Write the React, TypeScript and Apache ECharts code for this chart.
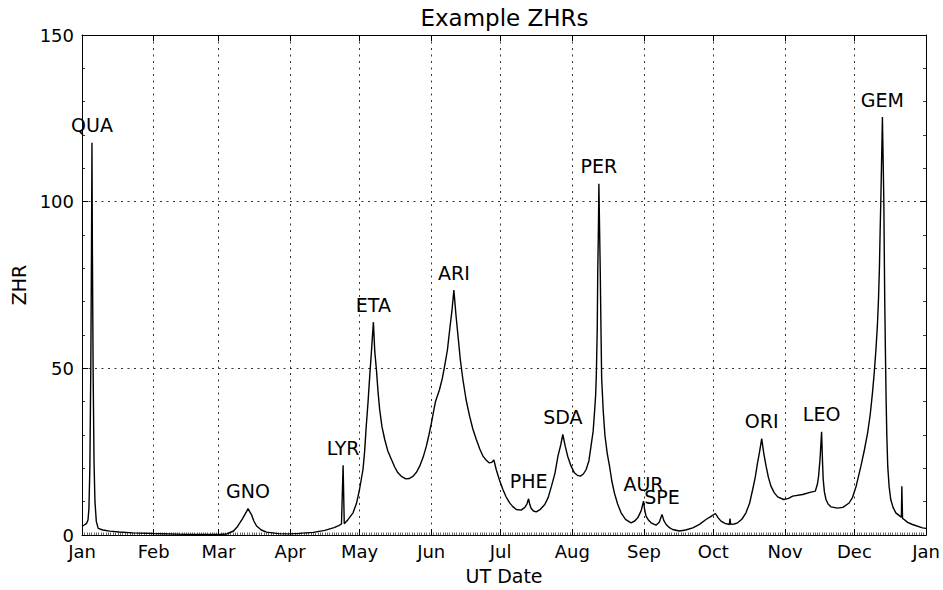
import React, { useEffect, useRef } from "react";
import * as echarts from "echarts";

const monthLabels = ["Jan", "Feb", "Mar", "Apr", "May", "Jun", "Jul", "Aug", "Sep", "Oct", "Nov", "Dec"];

// [day of year (UT), ZHR]
const zhrCurve: [number, number][] = [
  [0, 2.6], [1, 3.0], [2, 3.5], [2.6, 4.5], [3.0, 8], [3.4, 20], [3.8, 50], [4.1, 85], [4.3, 117.7], [4.5, 85],
  [4.8, 50], [5.2, 22], [5.6, 10], [6.2, 4], [7, 2.0], [9, 1.5], [12, 1.15], [16, 0.9], [22, 0.65], [31, 0.45],
  [45, 0.2], [59, 0.15], [62.5, 0.3], [65.5, 1.2], [67, 2.3], [68.3, 3.7], [69.5, 5], [70.4, 6.1], [71.2, 7.1],
  [71.8, 7.95], [72.5, 7.0], [73.3, 6.1], [74.3, 4.2], [75.5, 2.7], [77.5, 1.5], [79.8, 0.85], [85, 0.4], [90, 0.35],
  [94, 0.5], [100, 0.8], [105, 1.4], [109, 2.2], [111, 2.8], [112.2, 3.3], [112.9, 20.9], [113.4, 3.4], [115, 4.6],
  [117.2, 6.65], [118.7, 9.5], [120, 13.65], [121.5, 19.65], [122.2, 25], [122.9, 32.6], [123.7, 40], [124.4, 47.6],
  [125.2, 55.5], [126.0, 63.85], [126.6, 55], [127.3, 49.7], [128.0, 43], [128.7, 37.7], [129.7, 32.5], [130.9, 28.65],
  [132.2, 25.3], [133.8, 22.65], [135.2, 20.4], [136.6, 18.65], [138.3, 17.5], [140.0, 16.85], [141.6, 16.95],
  [143.2, 17.65], [144.7, 18.9], [146.0, 20.65], [147.5, 23.3], [148.9, 26.65], [150.0, 30], [151.1, 33.65],
  [152.0, 37], [152.9, 40.15], [154.6, 43.65], [155.8, 47], [156.8, 50.65], [158.0, 55.5], [159.0, 61.65],
  [160.0, 67.5], [160.8, 73.45], [161.7, 66], [162.6, 59.65], [163.6, 52.5], [164.7, 46.65], [166.1, 40.5],
  [167.6, 35.65], [169.0, 31.8], [170.5, 28.65], [172.0, 25.8], [173.4, 23.65], [174.8, 22.4], [176.0, 21.65],
  [177.2, 21.8], [178.1, 22.5], [179.1, 19.65], [180.5, 16.5], [182.0, 13.65], [183.4, 11.4], [184.9, 9.65],
  [186.3, 8.5], [187.8, 7.65], [189.9, 7.45], [191.5, 8.3], [192.4, 9.3], [193.1, 10.85], [193.6, 9.2], [194.2, 8.0],
  [195.2, 7.2], [196.4, 6.95], [198.2, 7.7], [200.1, 9.15], [201.6, 11.3], [203.0, 14.65], [204.5, 18.5],
  [205.8, 23.65], [207.0, 27], [207.9, 30.15], [209.0, 26.5], [210.0, 23.65], [211.4, 20.8], [212.9, 18.65],
  [214.2, 17.9], [215.5, 17.65], [216.8, 18.3], [218.0, 19.65], [219.2, 22.3], [220.1, 26.65], [221.0, 31],
  [221.6, 36.65], [222.1, 42], [222.4, 48], [222.8, 62], [223.0, 78.65], [223.3, 92], [223.5, 105.4], [223.8, 92],
  [224.1, 78.65], [224.4, 62], [224.7, 47], [225.4, 37], [226.1, 30], [227.1, 24.5], [228.1, 20.65], [229.1, 16.2],
  [230.2, 12.65], [231.6, 9.3], [233.1, 6.65], [235.0, 4.7], [237.4, 3.65], [239.0, 4.2], [240.3, 5.15], [241.8, 7.3],
  [242.8, 10.15], [243.3, 7.5], [243.9, 5.65], [245.0, 4.4], [246.1, 3.65], [248.2, 2.95], [249.6, 3.8], [250.8, 6.15],
  [251.6, 4.3], [252.6, 3.15], [254.0, 2.2], [255.4, 1.65], [258.3, 1.2], [261, 1.5], [264.1, 2.15], [267, 3.2],
  [269.8, 4.65], [272, 5.6], [273.9, 6.45], [275, 5.2], [276.3, 4.15], [278, 3.5], [279.9, 3.15], [280.2, 4.9],
  [280.5, 3.2], [282, 3.3], [283.5, 3.65], [285.4, 4.8], [287.1, 6.65], [288.7, 9.6], [290.0, 13.65], [291.1, 17.3],
  [292.1, 21.65], [293.0, 25], [293.9, 28.9], [294.8, 24.5], [295.8, 20.65], [296.8, 17.3], [297.9, 14.65],
  [299.3, 12.7], [300.8, 11.45], [303.4, 10.65], [305.5, 11.0], [307.3, 11.65], [311.6, 12.15], [315.2, 12.85],
  [317.1, 13.15], [318.0, 15.3], [318.5, 17.65], [319.1, 22.5], [319.8, 30.95], [320.2, 22], [320.5, 16.65],
  [321.0, 13], [321.7, 10.65], [322.6, 9.3], [323.8, 8.45], [326.7, 8.05], [329, 8.3], [331.7, 9.6], [333.2, 11.3],
  [334.8, 14.8], [336.8, 20.65], [338.3, 25.5], [339.7, 30.65], [340.8, 36], [341.8, 42.65], [342.6, 49],
  [343.3, 55.65], [343.9, 62.5], [344.4, 70.65], [344.8, 80], [345.1, 90.65], [345.4, 100], [345.7, 110.65],
  [346.1, 125.4], [346.4, 113], [346.7, 100.65], [346.9, 85], [347.1, 70.65], [347.4, 55], [347.7, 40.65],
  [348.0, 30], [348.4, 20.65], [349.0, 14.5], [349.7, 10.65], [350.7, 8.3], [351.9, 6.65], [353.7, 5.65],
  [354.3, 5.3], [354.5, 14.65], [354.8, 5.0], [355.5, 4.65], [357, 3.8], [359.1, 3.15], [363.4, 2.15], [365, 2.0],
];

const showerNames = ["QUA", "GNO", "LYR", "ETA", "ARI", "PHE", "SDA", "PER", "AUR", "SPE", "ORI", "LEO", "GEM"];
const showerPeakDays = [4.3, 71.8, 112.9, 126.0, 160.8, 193.1, 207.9, 223.5, 242.8, 250.8, 293.9, 319.8, 346.1];
const showerPeakZhr = [117.7, 7.95, 20.9, 63.85, 73.45, 10.85, 30.15, 105.4, 10.15, 6.15, 28.9, 30.95, 125.4];

const yMin = 0;
const yMax = 150;
const yInterval = 50;

const YEAR_START = Date.UTC(2015, 0, 1);
const YEAR_END = Date.UTC(2016, 0, 1);
const DAY_MS = 86400000;

export default function App() {
  const ref = useRef<HTMLDivElement>(null);

  useEffect(() => {
    const chart = echarts.init(ref.current!, null, { renderer: "svg" });
    const font = "DejaVu Sans";
    const lineData = zhrCurve.map(([d, v]) => [YEAR_START + d * DAY_MS, v]);
    const peakData = showerNames.map((n, i) => ({
      name: n,
      value: [YEAR_START + showerPeakDays[i] * DAY_MS, showerPeakZhr[i]],
    }));
    const dotted = { color: "#000", width: 0.8, type: [2, 4.5] as any };
    const spine = { show: true, onZero: false, lineStyle: { color: "#000", width: 1 } };
    const majorTick = { show: true, inside: true, length: 6, lineStyle: { color: "#000", width: 1 } };

    chart.setOption({
      animation: false,
      useUTC: true,
      textStyle: { fontFamily: font },
      grid: { left: 82, right: 16, top: 35, bottom: 54.5, containLabel: false },
      xAxis: [
        {
          type: "time",
          min: YEAR_START,
          max: YEAR_END,
          minInterval: 28 * DAY_MS,
          maxInterval: 31 * DAY_MS,
          name: "UT Date",
          nameLocation: "middle",
          nameGap: 31,
          nameTextStyle: { color: "#000", fontSize: 19, fontFamily: font },
          axisLine: spine,
          axisTick: majorTick,
          minorTick: { show: true, splitNumber: 30, length: 2.5, lineStyle: { color: "#000", width: 0.6 } },
          axisLabel: {
            show: true,
            color: "#000",
            fontSize: 18,
            fontFamily: font,
            margin: 7,
            showMinLabel: true,
            showMaxLabel: true,
            hideOverlap: false,
            formatter: (v: number) => monthLabels[new Date(v).getUTCMonth()],
          },
          splitLine: { show: true, lineStyle: dotted },
        },
        {
          type: "time",
          position: "top",
          min: YEAR_START,
          max: YEAR_END,
          minInterval: 28 * DAY_MS,
          maxInterval: 31 * DAY_MS,
          axisLine: spine,
          axisTick: majorTick,
          axisLabel: { show: false },
          splitLine: { show: false },
        },
      ],
      yAxis: [
        {
          type: "value",
          min: yMin,
          max: yMax,
          interval: yInterval,
          name: "ZHR",
          nameLocation: "middle",
          nameGap: 52,
          nameTextStyle: { color: "#000", fontSize: 19, fontFamily: font },
          axisLine: spine,
          axisTick: majorTick,
          minorTick: { show: true, splitNumber: 5, length: 3, lineStyle: { color: "#000", width: 0.8 } },
          axisLabel: { color: "#000", fontSize: 18, fontFamily: font, margin: 8 },
          splitLine: { show: true, lineStyle: dotted },
        },
        {
          type: "value",
          position: "right",
          min: yMin,
          max: yMax,
          interval: yInterval,
          axisLine: spine,
          axisTick: majorTick,
          minorTick: { show: true, splitNumber: 5, length: 3, lineStyle: { color: "#000", width: 0.8 } },
          axisLabel: { show: false },
          splitLine: { show: false },
        },
      ],
      series: [
        {
          type: "line",
          data: lineData,
          symbol: "none",
          showSymbol: false,
          smooth: false,
          lineStyle: { color: "#000", width: 1.4 },
          itemStyle: { color: "#000" },
          z: 3,
        },
        {
          type: "scatter",
          data: peakData,
          symbolSize: 0,
          itemStyle: { color: "#000", opacity: 1 },
          label: {
            show: true,
            position: "top",
            distance: 8,
            formatter: "{b}",
            color: "#000",
            opacity: 1,
            textBorderWidth: 0,
            fontSize: 19,
            fontFamily: font,
          },
          z: 4,
        },
      ],
      graphic: [
        {
          type: "text",
          x: 504.5,
          y: 18,
          style: {
            text: "Example ZHRs",
            align: "center",
            verticalAlign: "middle",
            fontSize: 23,
            fontFamily: font,
            fill: "#000",
          },
        },
      ],
    });

    return () => chart.dispose();
  }, []);

  return (
    <div
      ref={ref}
      style={{ position: "absolute", left: 0, top: 0, width: 943, height: 590, background: "#fff" }}
    />
  );
}
